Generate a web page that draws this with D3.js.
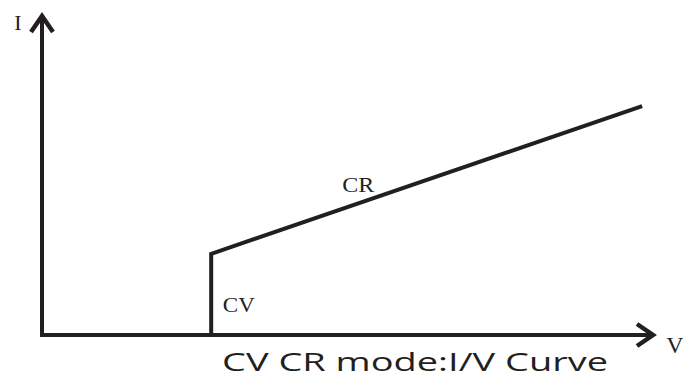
<!DOCTYPE html>
<html><head><meta charset="utf-8">
<script src="https://cdn.jsdelivr.net/npm/d3@7"></script>
<style>body{margin:0;background:#fff}svg{display:block}</style>
</head><body>
<svg id="c" width="683" height="378"></svg>
<script>
// Data (arbitrary units)
const curveV = [27.6, 27.6, 97.9];
const curveI = [0, 25.2, 71.1];
const axisMax = 100;
const axisLabels = ["I", "V"];
const regionLabels = ["CV", "CR"];
const regionV = [32.1, 51.6];
const regionI = [7.1, 44.4];
const title = "CV CR mode:I/V Curve";

const svg = d3.select("#c");
const x = d3.scaleLinear().domain([0, axisMax]).range([42, 655]);
const y = d3.scaleLinear().domain([0, axisMax]).range([335, 13]);
const ink = "#231f20";

const g = svg.append("g");
// axes
g.append("line").attr("x1", x(0)).attr("y1", y(0)).attr("x2", x(0)).attr("y2", y(axisMax) + 2)
  .attr("stroke", ink).attr("stroke-width", 4);
g.append("line").attr("x1", x(0) - 2).attr("y1", y(0)).attr("x2", x(axisMax) - 2).attr("y2", y(0))
  .attr("stroke", ink).attr("stroke-width", 4);
// arrowheads (chevrons)
g.append("path").attr("d", `M${x(0)-11},${y(axisMax)+19} L${x(0)},${y(axisMax)+3} L${x(0)+11},${y(axisMax)+19}`)
  .attr("fill", "none").attr("stroke", ink).attr("stroke-width", 4.5).attr("stroke-linejoin", "miter");
g.append("path").attr("d", `M${x(axisMax)-18},${y(0)-11} L${x(axisMax)-2},${y(0)} L${x(axisMax)-18},${y(0)+11}`)
  .attr("fill", "none").attr("stroke", ink).attr("stroke-width", 4.5).attr("stroke-linejoin", "miter");

// curve
const line = d3.line().x((d, i) => x(curveV[i])).y((d, i) => y(curveI[i]));
g.append("path").datum(curveV).attr("d", line)
  .attr("fill", "none").attr("stroke", ink).attr("stroke-width", 4).attr("stroke-linejoin", "miter");

// axis labels
const serif = "'Liberation Serif','DejaVu Serif',serif";
g.append("text").attr("x", 18).attr("y", 30).attr("text-anchor", "middle")
  .attr("font-family", serif).attr("font-size", 22).attr("fill", ink).text(axisLabels[0]);
g.append("text").attr("x", 675).attr("y", 353).attr("text-anchor", "middle")
  .attr("font-family", serif).attr("font-size", 24).attr("fill", ink).text(axisLabels[1]);

// region labels
regionLabels.forEach((t, i) => {
  g.append("text").attr("x", x(regionV[i])).attr("y", y(regionI[i])).attr("text-anchor", "middle")
    .attr("font-family", serif).attr("font-size", 22).attr("fill", ink)
    .attr("textLength", 32).attr("lengthAdjust", "spacingAndGlyphs").text(t);
});

// title
g.append("text").attr("x", 222).attr("y", 371)
  .attr("font-family", "'Open Sans','Noto Sans',sans-serif").attr("font-size", 26)
  .attr("textLength", 386).attr("lengthAdjust", "spacingAndGlyphs")
  .attr("fill", ink).text(title);
</script>
</body></html>
